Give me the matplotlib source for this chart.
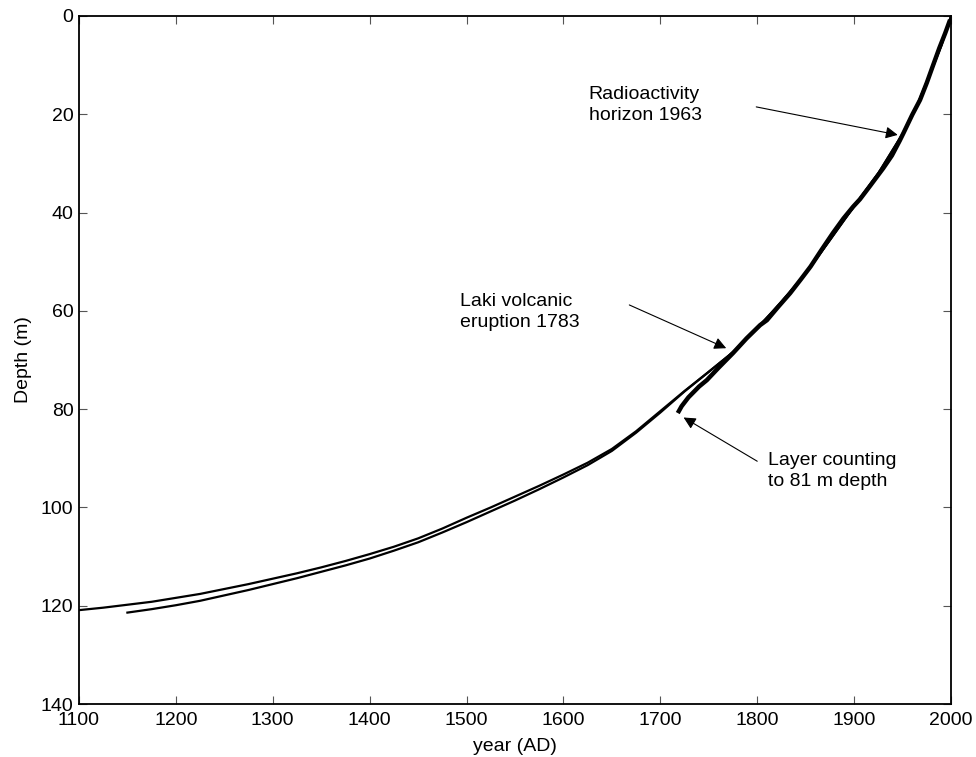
import matplotlib
matplotlib.use('Agg')
import matplotlib.pyplot as plt

plt.rcParams['font.family'] = ['Liberation Sans', 'DejaVu Sans']

# model age-depth curve 1 (full length)
model1_year = [1100, 1125, 1150, 1175, 1200, 1225, 1250, 1275, 1300, 1325, 1350, 1375,
               1400, 1425, 1450, 1475, 1500, 1525, 1550, 1575, 1600, 1625, 1650, 1675,
               1700, 1725, 1750, 1775, 1800, 1825, 1850, 1875, 1900, 1925, 1950, 1965,
               1980, 1990, 2000]
model1_depth = [120.9, 120.4, 119.8, 119.2, 118.4, 117.6, 116.6, 115.6, 114.5, 113.4, 112.2, 110.9,
                109.5, 108.0, 106.3, 104.3, 102.1, 100.0, 97.8, 95.6, 93.3, 90.9, 88.1, 84.5,
                80.4, 76.3, 72.4, 68.4, 63.5, 58.2, 52.4, 45.6, 38.7, 32.0, 24.0, 18.2,
                11.0, 6.0, 0.0]

# model age-depth curve 2 (starts at 1150)
model2_year = [1150, 1175, 1200, 1225, 1250, 1275, 1300, 1325, 1350, 1375,
               1400, 1425, 1450, 1475, 1500, 1525, 1550, 1575, 1600, 1625, 1650, 1675,
               1700, 1725, 1750, 1775, 1800, 1825, 1850, 1875, 1900, 1925, 1950, 1965,
               1980, 1990, 2000]
model2_depth = [121.4, 120.7, 119.9, 119.0, 117.9, 116.8, 115.6, 114.4, 113.1, 111.8,
                110.4, 108.8, 107.1, 105.1, 103.0, 100.8, 98.6, 96.3, 93.9, 91.4, 88.5, 84.8,
                80.7, 76.4, 72.4, 68.4, 63.5, 58.2, 52.4, 45.6, 38.7, 32.0, 24.0, 18.2,
                11.0, 6.0, 0.0]

# layer counting (to 81 m depth)
layer_year = [1718, 1722, 1729, 1740, 1748, 1760, 1775, 1789, 1803, 1810, 1822, 1834,
              1845, 1855, 1866, 1878, 1889, 1899, 1906, 1916, 1930, 1939, 1947, 1951,
              1960, 1968, 1975, 1981, 1988, 1994, 1999]
layer_depth = [80.8, 79.4, 77.6, 75.4, 74.1, 71.6, 68.6, 65.6, 62.9, 61.9, 59.1, 56.4,
               53.6, 51.0, 47.7, 44.2, 41.2, 38.8, 37.3, 34.7, 31.0, 28.4, 25.4, 23.8,
               20.1, 17.1, 13.6, 10.3, 6.5, 3.5, 0.8]

fig = plt.figure(figsize=(9.76, 7.57), dpi=100)
ax = fig.add_axes([0.0809, 0.07, 0.8935, 0.9089])

ax.plot(model1_year, model1_depth, color='black', lw=1.6)
ax.plot(model2_year, model2_depth, color='black', lw=1.6)
ax.plot(layer_year, layer_depth, color='black', lw=3.2, solid_capstyle='butt')

ax.set_xlim(1100, 2000)
ax.set_ylim(140, 0)
ax.set_xticks(range(1100, 2001, 100))
ax.set_yticks(range(0, 141, 20))
ax.tick_params(direction='in', top=True, right=True, length=6, width=0.8,
               color='#555555', labelsize=14)
ax.tick_params(axis='x', pad=6)
ax.tick_params(axis='y', pad=4)
for s in ax.spines.values():
    s.set_linewidth(1.3)

ax.set_xlabel('year (AD)', fontsize=14, labelpad=6)
ax.set_ylabel('Depth (m)', fontsize=14, labelpad=6)

arrow = dict(arrowstyle='-|>', color='black', lw=0.8, mutation_scale=18,
             shrinkA=0, shrinkB=0)
ax.annotate('', xy=(1945, 24.2), xytext=(1799, 18.5), arrowprops=arrow)
ax.annotate('', xy=(1768, 67.6), xytext=(1668, 58.8), arrowprops=arrow)
ax.annotate('', xy=(1724, 81.7), xytext=(1800, 90.6), arrowprops=arrow)

ax.text(1626, 14.3, 'Radioactivity\nhorizon 1963', fontsize=14, va='top', ha='left',
        linespacing=1.3)
ax.text(1493, 56.3, 'Laki volcanic\neruption 1783', fontsize=14, va='top', ha='left',
        linespacing=1.3)
ax.text(1811, 88.8, 'Layer counting\nto 81 m depth', fontsize=14, va='top', ha='left',
        linespacing=1.3)

fig.savefig('out.png', dpi=100)
